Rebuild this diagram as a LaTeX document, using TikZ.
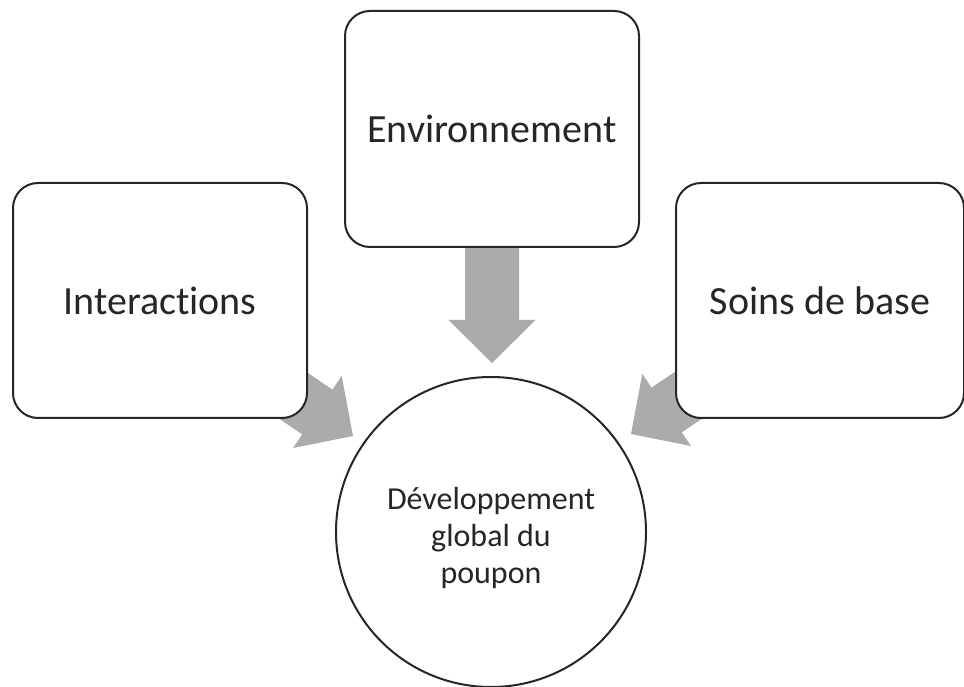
\documentclass[tikz,border=0pt]{standalone}
\usepackage{fontspec}
\setmainfont{Carlito}[Ligatures={NoCommon}]
\begin{document}
\begin{tikzpicture}[x=1pt,y=1pt,
  boxstyle/.style={draw=black!85, line width=2pt, fill=white, rounded corners=25pt,
    text=black!85, font=\fontsize{40}{48}\selectfont, inner sep=0pt},
  circstyle/.style={draw=black!85, line width=2pt, fill=white, circle, minimum size=310pt, inner sep=0pt},
  circtext/.style={text=black!85, font=\fontsize{32}{37}\selectfont, align=center, inner sep=0pt},
  arrowfill/.style={fill=black!33},
  pics/bigarrow/.style={code={
    \fill[arrowfill] (0,0) -- (-43,43.5) -- (-43,27) -- (-115,27) -- (-115,-27)
      -- (-43,-27) -- (-43,-43.5) -- cycle;}}]
\useasboundingbox (0,0) rectangle (964,686);
% arrow tips
\coordinate (tipL) at (353,250);
\coordinate (tipC) at (492,323);
\coordinate (tipR) at (631,252);
\pic[rotate=-34] at (tipL) {bigarrow};
\pic[rotate=-90] at (tipC) {bigarrow};
\pic[rotate=214] at (tipR) {bigarrow};
% boxes
\node[boxstyle, minimum width=294pt, minimum height=235pt] (inter) at (160,385.5) {Interactions};
\node[boxstyle, minimum width=294pt, minimum height=236pt] (env) at (492,557) {Environnement};
\node[boxstyle, minimum width=288pt, minimum height=235pt] (soins) at (820,385.5) {Soins de base};
% circle
\node[circstyle] (dev) at (491,154) {};
\node[circtext] (devtext) at ([yshift=-6pt]dev.center) {Développement\\global du\\poupon};
\end{tikzpicture}
\end{document}
